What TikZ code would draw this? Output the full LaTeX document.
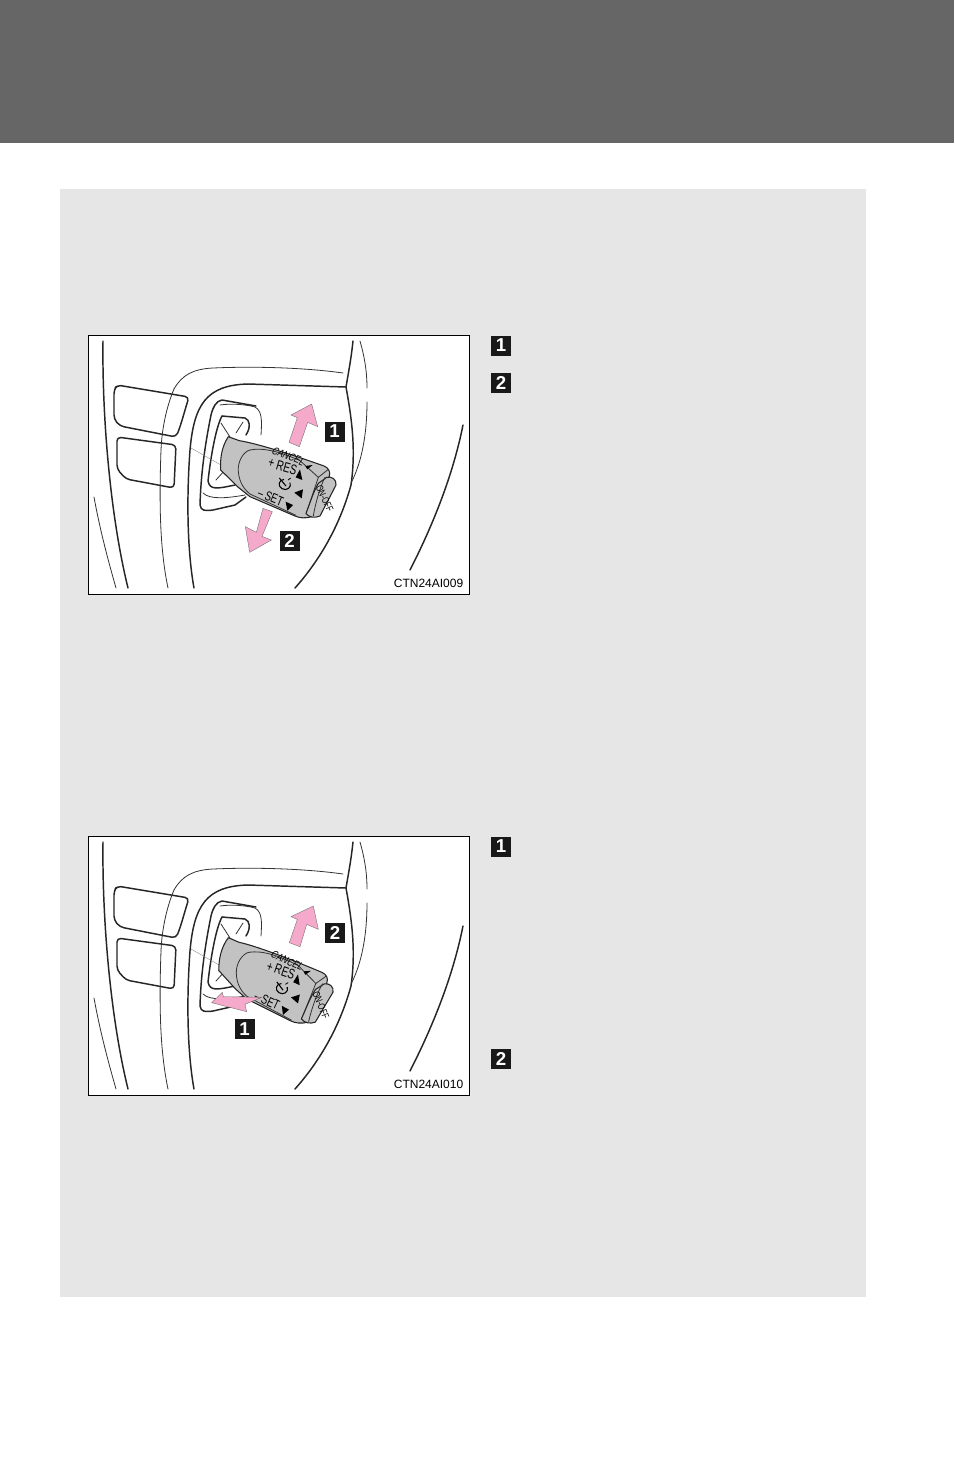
\documentclass[tikz,border=0pt]{standalone}
\usepackage{fontspec}
\setmainfont{Liberation Sans}
\newfontfamily\narrowface[FakeStretch=0.72]{Liberation Sans}
\newfontfamily\narrowslant[FakeStretch=0.78,FakeSlant=0.2]{Liberation Sans}
\definecolor{band}{HTML}{666666}
\definecolor{sheet}{HTML}{E6E6E6}
\definecolor{pinkarrow}{HTML}{F5A9CB}
\definecolor{stalk}{HTML}{C2C2C2}
\tikzset{
  heavy/.style={line width=1.1pt,black!85,line join=round,line cap=round},
  leverline/.style={line width=.8pt,black!85,line join=round,line cap=round},
  lightline/.style={line width=.6pt,black!80,line cap=round},
  hair/.style={line width=.3pt,black!45},
  badge/.style={fill=black!90,text=white,font=\bfseries\fontsize{14}{14}\selectfont,minimum width=15pt,minimum height=15pt,inner sep=0pt},
  arrowshape/.style={fill=pinkarrow,draw=black!60,line width=.25pt,line join=miter},
  tri/.style={fill=black,draw=none},
  lab/.style={inner sep=0pt,text=black},
}
\newcommand{\dashboard}{%
  \draw[heavy] (15,6) .. controls (14,80) and (22,180) .. (40,253);
  \draw[lightline] (6,162) .. controls (12,195) and (20,225) .. (28,253);
  \draw[heavy,rounded corners=3pt] (29,50) -- (101,62) .. controls (96,78) and (93,90) .. (88,102) -- (32,91) -- (26,84) -- (26,55) -- cycle;
  \draw[heavy,rounded corners=3pt] (29,102) -- (88,110) -- (86,153) -- (38,144) -- (29,134) -- cycle;
  \draw[lightline] (86,54) .. controls (80,68) and (74,90) .. (73,115);
  \draw[lightline] (73,115) .. controls (71,170) and (72,215) .. (80,253);
  \draw[lightline] (86,54) .. controls (94,40) and (105,34) .. (125,33) .. controls (170,31) and (220,33) .. (255,38);
  \draw[heavy] (106,253) .. controls (100,220) and (98,170) .. (102,115) .. controls (106,70) and (118,50) .. (160,49) -- (258,52);
  \draw[heavy] (265,6) .. controls (263,25) and (260,40) .. (258,52) .. controls (264,85) and (268,115) .. (263,150) .. controls (252,190) and (232,225) .. (207,253);
  \draw[lightline] (272,6) .. controls (276,20) and (279,35) .. (279,53);
  \draw[lightline] (279,67) .. controls (279,95) and (275,125) .. (263,148);
  \draw[heavy] (322,235) .. controls (345,190) and (365,140) .. (375,90);
  \draw[heavy] (168,71) -- (134,65) .. controls (128,66) and (125,72) .. (123,80) .. controls (118,105) and (113,135) .. (112,170) .. controls (113,176) and (117,176) .. (125,175) -- (147,170) -- (158,162);
  \draw[lightline] (132,70) .. controls (145,68) and (160,70) .. (167,72) .. controls (174,76) and (174,85) .. (173,100);
  \draw[lightline] (115,158) .. controls (122,165) and (140,163) .. (157,160);
  \draw[heavy] (134,81) -- (157,83) .. controls (162,85) and (163,92) .. (158,100);
  \draw[heavy] (134,81) .. controls (128,92) and (123,120) .. (120,146) .. controls (122,155) and (128,154) .. (147,150);
  \draw[lightline] (133,88) -- (142,102);
  \draw[lightline] (155,87) -- (148,98);
  \draw[lightline] (128,145) -- (137,135);
  \draw[hair] (103,113) -- (133,130);
}
\newcommand{\lever}[2]{%
  \begin{scope}[shift={(112,55)},x=.25pt,y=-.25pt,rotate around={#1:(85,140)}]
    \draw[leverline,fill=stalk] (85,140) -- (118,152) .. controls (170,160) and (280,195) .. (372,228) .. controls (385,233) and (392,245) .. (388,258)
       -- (335,380) .. controls (320,385) and (300,385) .. (285,378) -- (150,320) -- (115,292) -- (62,240) .. controls (60,205) and (65,170) .. (85,140) -- cycle;
    \draw[lightline] (150,180) .. controls (130,185) and (112,215) .. (115,245) .. controls (118,280) and (135,300) .. (150,312) -- (288,376);
    \draw[lightline] (150,180) .. controls (190,172) and (240,185) .. (300,212) -- (355,262) -- (318,372);
    \draw[lightline] (385,238) -- (355,262);
    \draw[leverline,fill=stalk] (355,280) -- (380,262) .. controls (395,258) and (410,268) .. (408,285) -- (360,378) .. controls (345,385) and (325,382) .. (318,370) .. controls (330,340) and (340,305) .. (355,280) -- cycle;
    \draw[lightline] (375,262) .. controls (360,290) and (345,345) .. (340,378);
    \node[lab,rotate=#2,font=\narrowslant\fontsize{8}{8}\selectfont] at (264,198) {CANCEL};
    \node[lab,rotate=#2+6,font=\narrowface\fontsize{10.5}{10.5}\selectfont] at (248,229) {+\,RES};
    \node[lab,rotate=#2,font=\narrowface\fontsize{10}{10}\selectfont] at (212,322) {–\,SET};
    \node[lab,rotate=#2-43,font=\narrowface\fontsize{7.6}{7.6}\selectfont] at (374,326) {ON-OFF};
    \fill[tri] (316,228) -- (338,225) -- (322,238) -- cycle;
    \fill[tri] (300,238) -- (307,270) -- (287,262) -- cycle;
    \fill[tri] (283,308) -- (309,298) -- (305,325) -- cycle;
    \fill[tri] (257,335) -- (279,345) -- (262,362) -- cycle;
    \draw[line width=.8pt,black] (252,268) .. controls (236,270) and (232,288) .. (246,296) .. controls (260,304) and (276,292) .. (270,278);
    \draw[line width=.8pt,black] (238,264) -- (258,288);
    \draw[line width=.6pt,black] (264,270) -- (272,264);
  \end{scope}
}
\begin{document}
\begin{tikzpicture}[x=.75pt,y=-.75pt]
\useasboundingbox (0,0) rectangle (954,1475);
\fill[white] (0,0) rectangle (954,1475);
\fill[band] (0,0) rectangle (954,143);
\fill[sheet] (60,189) rectangle (866,1297);

\begin{scope}[shift={(88,335)}]
  \draw[line width=.8pt,fill=white] (.5,.5) rectangle (381.5,259.5);
  \dashboard
  \lever{0}{-22}
  \begin{scope}[shift={(192,0)},x=.25pt,y=-.25pt]
    \fill[arrowshape] (95,207) -- (113,275) -- (83,262) -- (58,335) -- (27,322) -- (52,248) -- (33,240) -- cycle;
  \end{scope}
  \begin{scope}[x=.25pt,y=-.25pt]
    \fill[arrowshape] (553,530) -- (525,520) -- (505,592) -- (472,575) -- (485,652) -- (550,615) -- (522,604) -- cycle;
  \end{scope}
  \node[badge] (a1) at (246.5,96.5) {1};
  \node[badge] (a2) at (201.5,206) {2};
  \node[lab,anchor=east,font=\fontsize{9}{9}\selectfont] (acode) at (375.5,248.5) {CTN24AI009};
\end{scope}

\begin{scope}[shift={(88,836)}]
  \draw[line width=.8pt,fill=white] (.5,.5) rectangle (381.5,259.5);
  \dashboard
  \lever{-3.3}{-25}
  \begin{scope}[shift={(102,54)},x=.25pt,y=-.25pt]
    \fill[arrowshape] (370,48) -- (385,118) -- (350,103) -- (330,170) -- (298,158) -- (322,88) -- (303,80) -- cycle;
    \fill[arrowshape] (65,338) -- (97,307) -- (100,320) -- (215,322) -- (165,343) -- (170,365) -- cycle;
  \end{scope}
  \node[badge] (b1) at (156.5,193) {1};
  \node[badge] (b2) at (247,97) {2};
  \node[lab,anchor=east,font=\fontsize{9}{9}\selectfont] (bcode) at (375.5,248.5) {CTN24AI010};
\end{scope}

\node[badge] (s1) at (501,345.5) {1};
\node[badge] (s2) at (501,383) {2};
\node[badge] (s3) at (501,846.5) {1};
\node[badge] (s4) at (501,1059) {2};
\end{tikzpicture}
\end{document}
